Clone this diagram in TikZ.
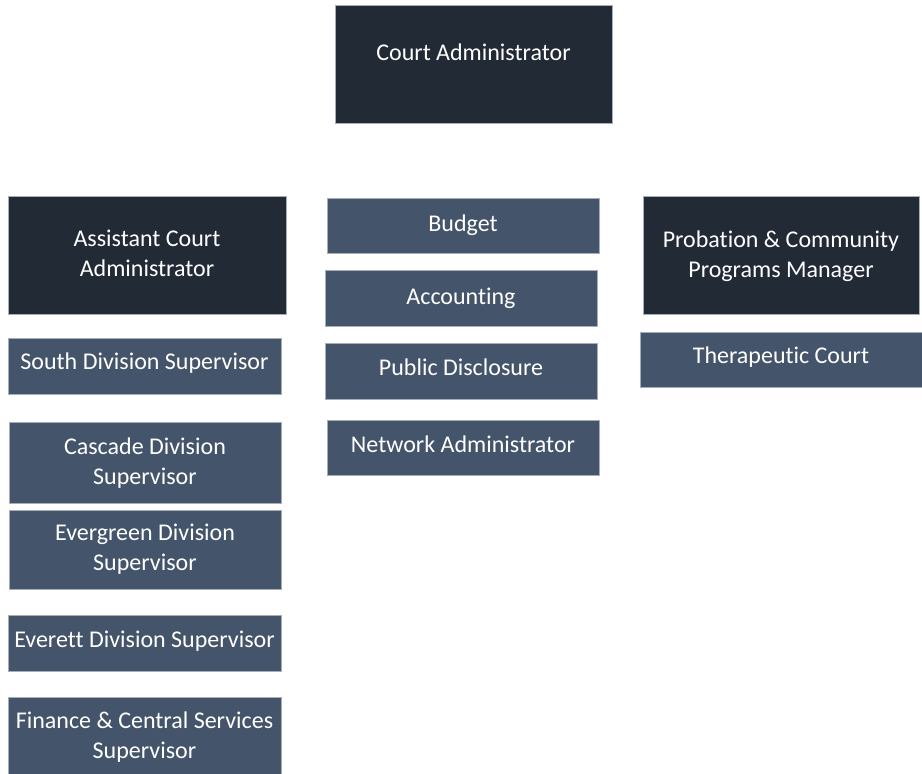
\documentclass[tikz,border=0pt]{standalone}
\usepackage{fontspec}
\setmainfont{Carlito}[Ligatures=NoCommon]
\definecolor{chiefblue}{HTML}{222A35}
\definecolor{unitblue}{HTML}{44546A}
\definecolor{rimgrey}{HTML}{A6AEBA}
\begin{document}
\begin{tikzpicture}[x=0.75pt,y=-0.75pt,
  orgbox/.style={rectangle,draw=rimgrey,line width=0.6pt,inner sep=0pt},
  chief/.style={orgbox,fill=chiefblue,minimum width=277*0.75pt,minimum height=118*0.75pt},
  unit/.style={orgbox,fill=unitblue,minimum width=272*0.75pt,minimum height=55*0.75pt},
  tag/.style={text=white,font=\fontsize{18}{22.5}\selectfont,align=center,inner sep=0pt}]
\useasboundingbox (0,0) rectangle (922,774);
%top
\node[chief,label={[tag,yshift=9pt]center:Court Administrator}] (courtadmin) at (473.5,64) {};
%managers
\node[chief,minimum width=278*0.75pt,label={[tag,yshift=1.5pt]center:{Assistant Court\\Administrator}}] (assistant) at (147,255) {};
\node[chief,minimum width=276*0.75pt,label={[tag,yshift=-1pt]center:{Probation \& Community\\Programs Manager}}] (probation) at (781,255) {};
%middle column
\node[unit,label={[tag,yshift=0.5pt]center:Budget}] (budget) at (463,226) {};
\node[unit,minimum height=56*0.75pt,label={[tag]center:Accounting}] (accounting) at (461,298) {};
\node[unit,minimum height=56*0.75pt,label={[tag,yshift=3pt]center:Public Disclosure}] (disclosure) at (461,371) {};
\node[unit,label={[tag,yshift=2.5pt]center:Network Administrator}] (network) at (463,447.5) {};
%right column
\node[unit,minimum width=282*0.75pt,label={[tag,yshift=1.5pt]center:Therapeutic Court}] (therapeutic) at (781,359.5) {};
%left column
\node[unit,minimum width=273*0.75pt,minimum height=56*0.75pt,label={[tag,yshift=2pt]center:South Division Supervisor}] (south) at (144.5,366) {};
\node[unit,minimum height=81*0.75pt,label={[tag,yshift=-0.5pt]center:{Cascade Division\\Supervisor}}] (cascade) at (145,462.5) {};
\node[unit,minimum height=79*0.75pt,label={[tag]center:{Evergreen Division\\Supervisor}}] (evergreen) at (145,549.5) {};
\node[unit,minimum width=273*0.75pt,minimum height=56*0.75pt,label={[tag,yshift=1.5pt]center:Everett Division Supervisor}] (everett) at (144.5,643) {};
\node[unit,minimum width=273*0.75pt,minimum height=78*0.75pt,label={[tag,yshift=-0.5pt]center:{Finance \& Central Services\\Supervisor}}] (finance) at (144.5,736) {};
\end{tikzpicture}
\end{document}
